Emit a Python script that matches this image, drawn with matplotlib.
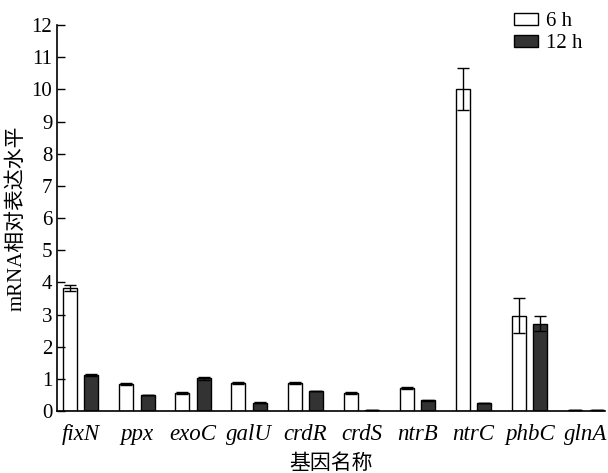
import numpy as np
import matplotlib
matplotlib.use("Agg")
import matplotlib.pyplot as plt

plt.rcParams['font.family'] = ['Liberation Serif', 'Noto Sans CJK SC']

genes = ["fixN", "ppx", "exoC", "galU", "crdR", "crdS", "ntrB", "ntrC", "phbC", "glnA"]
h6 = [3.82, 0.84, 0.57, 0.88, 0.87, 0.56, 0.71, 10.0, 2.97, 0.02]
h6_err = [0.10, 0.03, 0.03, 0.03, 0.03, 0.02, 0.03, 0.65, 0.55, 0.0]
h12 = [1.12, 0.50, 1.02, 0.26, 0.62, 0.03, 0.33, 0.25, 2.72, 0.02]
h12_err = [0.03, 0.01, 0.04, 0.01, 0.01, 0.0, 0.01, 0.01, 0.22, 0.0]

x = np.arange(len(genes))
w = 0.25
off = 0.19

fig = plt.figure(figsize=(6.08, 4.73), dpi=100)
ax = fig.add_axes([0.094, 0.131, 0.901, 0.816])

ebar = dict(ecolor='black', elinewidth=1.0, capsize=4, capthick=1.0)
ax.bar(x - off, h6, w, yerr=h6_err, color='white', edgecolor='black',
       linewidth=1.0, error_kw=ebar, label='6 h')
ax.bar(x + off, h12, w, yerr=h12_err, color='#333333', edgecolor='black',
       linewidth=1.0, error_kw=ebar, label='12 h')

ax.set_xlim(-0.42, 9.34)
ax.set_ylim(0, 12)
ax.set_yticks(range(0, 13))
ax.set_xticks(x)
ax.set_xticklabels(genes, fontstyle='italic', fontsize=16.5)
ax.tick_params(axis='y', direction='in', length=6, labelsize=15, width=1)
ax.tick_params(axis='x', length=0, pad=9)
ax.spines['top'].set_visible(False)
ax.spines['right'].set_visible(False)
ax.spines['left'].set_linewidth(1.2)
ax.spines['bottom'].set_linewidth(1.2)

ax.set_ylabel('mRNA相对表达水平', fontsize=15, labelpad=4)
ax.set_xlabel('基因名称', fontsize=15, va='center')
ax.xaxis.set_label_coords(0.5, -0.137)

ax.legend(loc='upper right', bbox_to_anchor=(0.975, 1.055), frameon=False,
          fontsize=15, handlelength=1.15, handleheight=0.55, handletextpad=0.4,
          labelspacing=0.15, borderaxespad=0)

fig.savefig('out.png', dpi=100)
